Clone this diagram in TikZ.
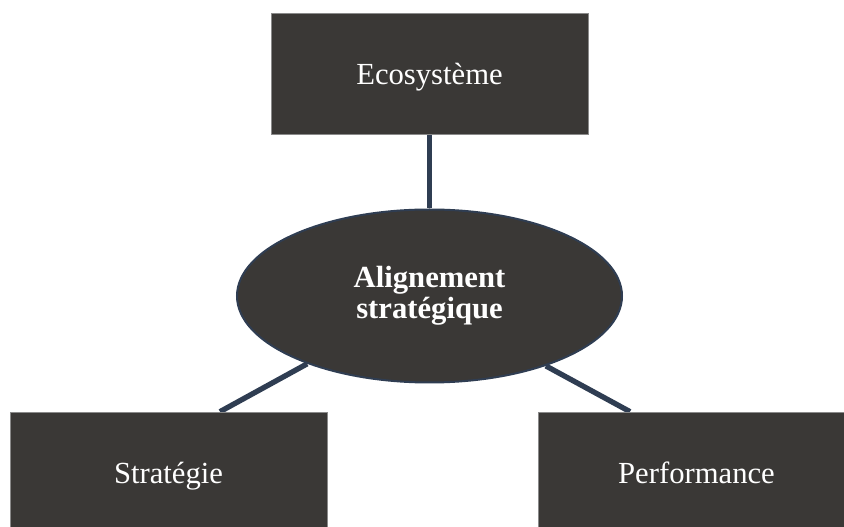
\documentclass[tikz,border=0pt]{standalone}
\usepackage{fontspec}
\setmainfont{Liberation Serif}
\usetikzlibrary{shapes.geometric,backgrounds}
\definecolor{boxfill}{HTML}{3A3836}
\definecolor{boxedge}{HTML}{8A8A8A}
\definecolor{linknavy}{HTML}{2F3D52}
\tikzset{
  px/.style={x=0.75pt,y=-0.75pt},
  termbox/.style={rectangle, fill=boxfill, draw=boxedge, line width=0.5pt,
    minimum width=317*0.75pt, minimum height=121*0.75pt, inner sep=0pt,
    text height=18.4pt, text depth=2.3pt,
    text=white, font=\fontsize{23}{23}\selectfont},
  hub/.style={ellipse, fill=boxfill, draw=linknavy, line width=1.5pt,
    minimum width=385*0.75pt, minimum height=173*0.75pt, inner sep=0pt,
    text=white, align=center, font=\fontsize{23}{23.5}\selectfont\bfseries},
  link/.style={draw=linknavy, line width=4pt}
}
\begin{document}
\begin{tikzpicture}[px]
\useasboundingbox (0,0) rectangle (844,527);
\clip (0,0) rectangle (844,527);
\node[termbox] (eco) at (429.5,73.5) {Ecosystème};
\node[hub] (align) at (429.5,296) {Alignement\\stratégique};
\node[termbox] (strat) at (168.5,472.5) {Stratégie};
\node[termbox] (perf) at (696.5,472.5) {Performance};
\begin{scope}[on background layer]
\fill[white] (0,0) rectangle (844,527);
\draw[link] (eco.south) -- (align.north);
\draw[link] (align.209) -- ([xshift=51.5*0.75pt]strat.north);
\draw[link] (align.-31) -- ([xshift=-66.5*0.75pt]perf.north);
\end{scope}
\end{tikzpicture}
\end{document}
